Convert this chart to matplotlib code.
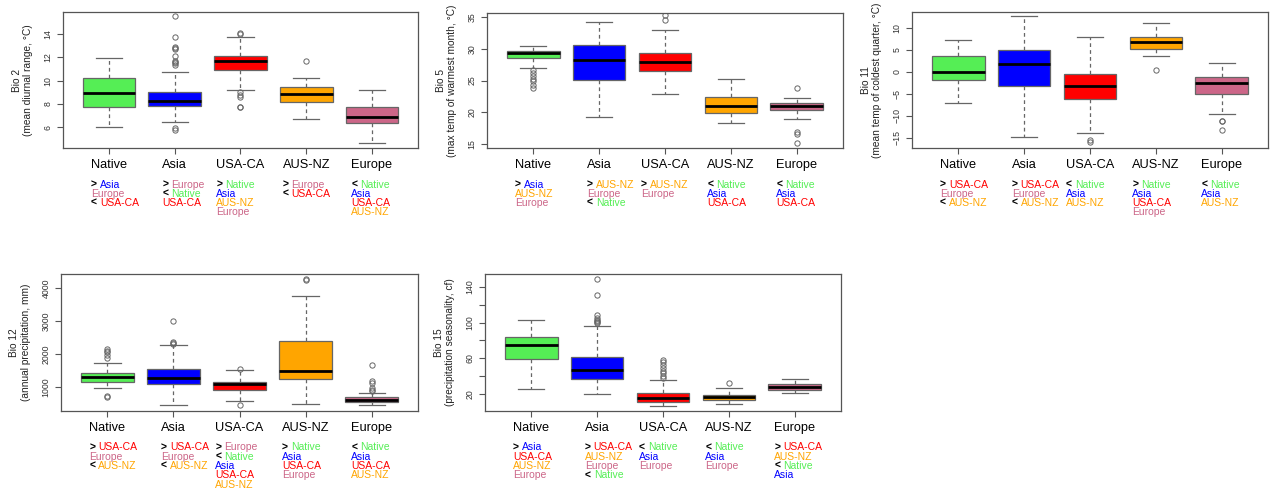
import matplotlib.pyplot as plt
import matplotlib.transforms as mtransforms

plt.rcParams['font.family'] = ['Liberation Sans', 'DejaVu Sans']

groups = ['Native', 'Asia', 'USA-CA', 'AUS-NZ', 'Europe']
colors = ['#55EE55', '#0000FF', '#FF0000', '#FFA500', '#CC6688']

# five-number summaries per region: (lower whisker, Q1, median, Q3, upper whisker)
bio2_stats = [(6.0, 7.72, 8.9, 10.24, 11.9),
              (6.4, 7.78, 8.24, 8.98, 10.7),
              (9.18, 10.9, 11.65, 12.1, 13.77),
              (6.66, 8.2, 8.81, 9.44, 10.2),
              (4.65, 6.32, 6.89, 7.72, 9.18)]
bio2_fliers = [[],
               [15.55, 13.77, 12.9, 12.8, 12.7, 12.1, 11.7, 11.6, 11.5, 11.3, 5.9, 5.75],
               [14.1, 14.0, 9.04, 8.8, 8.6, 7.75, 7.7],
               [11.65],
               []]

bio5_stats = [(26.9, 28.47, 29.26, 29.6, 30.42),
              (19.3, 25.1, 28.26, 30.5, 34.16),
              (22.95, 26.47, 27.95, 29.37, 32.9),
              (18.26, 19.84, 20.95, 22.47, 25.2),
              (18.9, 20.3, 21.05, 21.47, 22.3)]
bio5_fliers = [[26.6, 26.2, 25.7, 25.2, 24.9, 24.3, 23.8],
               [],
               [35.3, 34.5],
               [],
               [23.9, 16.95, 16.6, 15.2]]

bio11_stats = [(-7.05, -1.89, -0.08, 3.56, 7.27),
               (-14.9, -3.18, 1.74, 4.92, 12.8),
               (-13.86, -6.14, -3.18, -0.53, 7.88),
               (3.64, 5.3, 6.82, 7.88, 11.2),
               (-9.55, -5.0, -2.42, -1.14, 1.97)]
bio11_fliers = [[], [], [-15.45, -16.0], [0.38], [-11.06, -11.25, -13.26]]

bio12_stats = [(970, 1152, 1294, 1426, 1730),
               (443, 1081, 1274, 1557, 2287),
               (564, 919, 1091, 1152, 1527),
               (493, 1233, 1486, 2409, 3746),
               (443, 554, 615, 686, 818)]
bio12_fliers = [[2155, 2105, 2050, 1963, 1882, 736, 696],
                [2986, 2358, 2320, 2290],
                [1540, 443],
                [4274, 4243],
                [1659, 1182, 1132, 959, 919, 888]]

bio15_stats = [(25.2, 59.6, 74.6, 84.3, 103.4),
               (20.0, 37.2, 46.9, 61.1, 96.3),
               (6.5, 11.0, 15.1, 21.5, 35.7),
               (8.8, 13.3, 16.3, 18.9, 26.4),
               (21.1, 24.5, 27.5, 30.8, 37.2)]
bio15_fliers = [[],
                [148.6, 130.7, 108.2, 104.9, 103, 102, 101, 100],
                [58.5, 56, 52, 49, 46, 43, 40, 38],
                [32.7],
                []]

# pairwise test results: regions significantly lower (">") or higher ("<")
bio2_gt = [['Asia', 'Europe'], ['Europe'], ['Native', 'Asia', 'AUS-NZ', 'Europe'], ['Europe'], []]
bio2_lt = [['USA-CA'], ['Native', 'USA-CA'], [], ['USA-CA'], ['Native', 'Asia', 'USA-CA', 'AUS-NZ']]
bio5_gt = [['Asia', 'AUS-NZ', 'Europe'], ['AUS-NZ', 'Europe'], ['AUS-NZ', 'Europe'], [], []]
bio5_lt = [[], ['Native'], [], ['Native', 'Asia', 'USA-CA'], ['Native', 'Asia', 'USA-CA']]
bio11_gt = [['USA-CA', 'Europe'], ['USA-CA', 'Europe'], [], ['Native', 'Asia', 'USA-CA', 'Europe'], []]
bio11_lt = [['AUS-NZ'], ['AUS-NZ'], ['Native', 'Asia', 'AUS-NZ'], [], ['Native', 'Asia', 'AUS-NZ']]
bio12_gt = [['USA-CA', 'Europe'], ['USA-CA', 'Europe'], ['Europe'], ['Native', 'Asia', 'USA-CA', 'Europe'], []]
bio12_lt = [['AUS-NZ'], ['AUS-NZ'], ['Native', 'Asia', 'USA-CA', 'AUS-NZ'], [], ['Native', 'Asia', 'USA-CA', 'AUS-NZ']]
bio15_gt = [['Asia', 'USA-CA', 'AUS-NZ', 'Europe'], ['USA-CA', 'AUS-NZ', 'Europe'], [], [], ['USA-CA', 'AUS-NZ']]
bio15_lt = [[], ['Native'], ['Native', 'Asia', 'Europe'], ['Native', 'Asia', 'Europe'], ['Native', 'Asia']]

W, H = 1273, 492
fig = plt.figure(figsize=(W / 100, H / 100), dpi=100)


def add_axes(left, right, top, bottom):
    return fig.add_axes([left / W, 1 - bottom / H, (right - left) / W, (bottom - top) / H])


def panel(ax, stats, fliers, ylim, yticks, ylabel, yticklabels=None):
    bxp_stats = []
    for name, s, fl in zip(groups, stats, fliers):
        bxp_stats.append(dict(label=name, whislo=s[0], q1=s[1], med=s[2],
                              q3=s[3], whishi=s[4], fliers=fl))
    res = ax.bxp(bxp_stats, positions=range(1, 6), widths=0.8, patch_artist=True,
                 capwidths=0.4,
                 boxprops=dict(edgecolor='#666666', linewidth=0.9),
                 medianprops=dict(color='black', linewidth=2.0, solid_capstyle='butt'),
                 whiskerprops=dict(color='#666666', linewidth=0.9, linestyle=(0, (3, 2.5))),
                 capprops=dict(color='#666666', linewidth=0.9),
                 flierprops=dict(marker='o', markersize=3.8, markerfacecolor='none',
                                 markeredgecolor='#666666', markeredgewidth=0.7))
    for box, c in zip(res['boxes'], colors):
        box.set_facecolor(c)
    ax.set_xlim(0.3, 5.7)
    ax.set_ylim(*ylim)
    ax.set_yticks(yticks)
    if yticklabels is not None:
        ax.set_yticklabels(yticklabels)
    ax.tick_params(axis='y', labelsize=6.3, length=4, width=0.8, pad=3.5,
                   color='#555555', labelcolor='#333333', labelrotation=90)
    for lbl in ax.get_yticklabels():
        lbl.set_va('center')
    ax.tick_params(axis='x', labelsize=9.2, length=4, width=0.8, pad=4,
                   color='#555555', labelcolor='black')
    for sp in ax.spines.values():
        sp.set_color('#555555')
        sp.set_linewidth(0.9)
    ax.set_ylabel(ylabel, fontsize=7.3, linespacing=1.15, color='#222222')
    ax.yaxis.set_label_coords(-0.085, 0.5)


ax1 = add_axes(63, 418, 12, 148)
ax2 = add_axes(487, 843, 13, 148)
ax3 = add_axes(912, 1268, 12, 148)
ax4 = add_axes(61, 418, 274, 411)
ax5 = add_axes(485, 841, 274, 411)

panel(ax1, bio2_stats, bio2_fliers, (4.2, 15.9), [6, 8, 10, 12, 14],
      'Bio 2\n(mean diurnal range, °C)')
panel(ax2, bio5_stats, bio5_fliers, (14.4, 35.6), [15, 20, 25, 30, 35],
      'Bio 5\n(max temp of warmest month, °C)')
panel(ax3, bio11_stats, bio11_fliers, (-17.3, 13.6), [-15, -10, -5, 0, 5, 10],
      'Bio 11\n(mean temp of coldest quarter, °C)')
panel(ax4, bio12_stats, bio12_fliers, (273, 4424), [1000, 2000, 3000, 4000],
      'Bio 12\n(annual precipitation, mm)')
panel(ax5, bio15_stats, bio15_fliers, (0.9, 154.6), [20, 40, 60, 80, 100, 120, 140],
      'Bio 15\n(precipitation seasonality, cf)',
      ['20', '', '60', '', '100', '', '140'])

# significance notes under each region label
fig.canvas.draw()
renderer = fig.canvas.get_renderer()
ident = mtransforms.IdentityTransform()
color_of = dict(zip(groups, colors))
note_size = 7.5
step = 9.33
sym_w = 0.862 * note_size * 100 / 72

for ax, gt, lt in [(ax1, bio2_gt, bio2_lt), (ax2, bio5_gt, bio5_lt),
                   (ax3, bio11_gt, bio11_lt), (ax4, bio12_gt, bio12_lt),
                   (ax5, bio15_gt, bio15_lt)]:
    y0 = ax.get_window_extent(renderer).y0 - 36.5
    for lbl, g, l in zip(ax.get_xticklabels(), gt, lt):
        x0 = lbl.get_window_extent(renderer).x0
        row = 0
        for sym, names in (('>', g), ('<', l)):
            for i, name in enumerate(names):
                y = y0 - row * step
                if i == 0:
                    fig.text(x0, y, sym, transform=ident, fontsize=note_size,
                             fontweight='bold', color='black', va='center', ha='left')
                    xs = x0 + sym_w
                else:
                    xs = x0
                fig.text(xs, y, name, transform=ident, fontsize=note_size,
                         color=color_of[name], va='center', ha='left')
                row += 1

fig.savefig('out.png', dpi=100)
